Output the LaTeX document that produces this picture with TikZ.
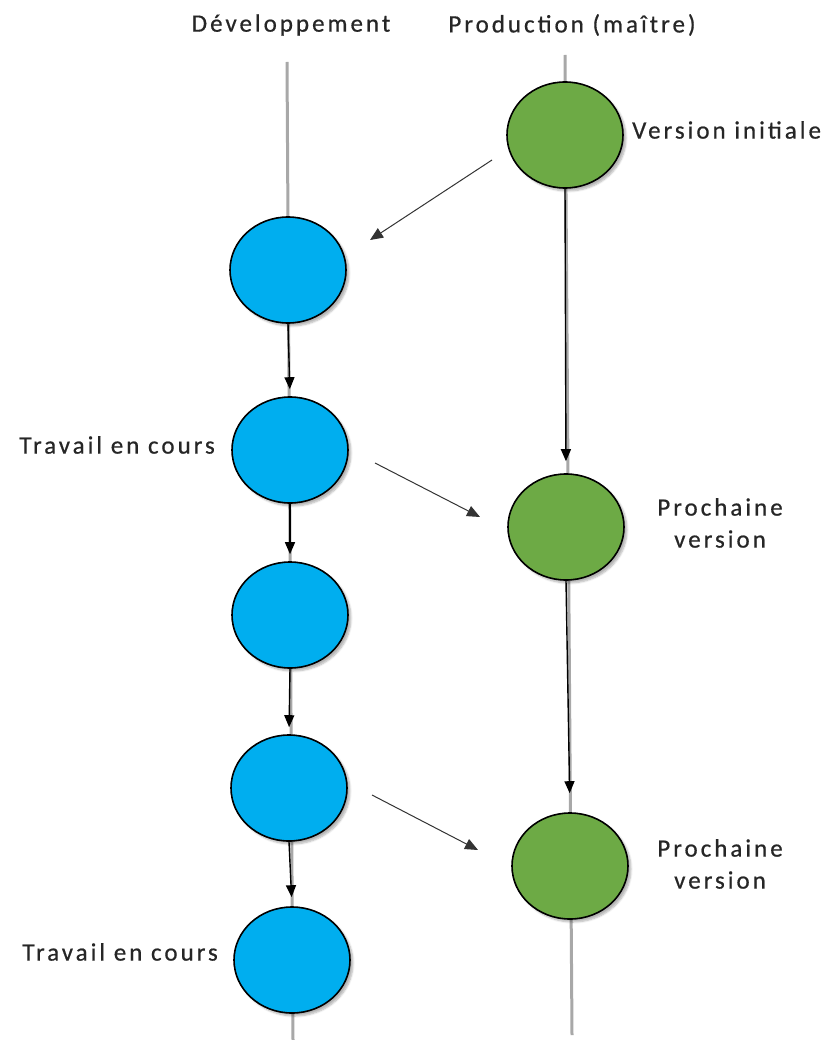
\documentclass[tikz,border=0pt]{standalone}
\usepackage{fontspec}
\setmainfont{Carlito}[LetterSpace=12, FakeBold=0.6]
\usetikzlibrary{shapes.geometric,arrows.meta,shadows.blur}
\definecolor{devblue}{HTML}{00AEEF}
\definecolor{prodgreen}{HTML}{6DAA45}
\definecolor{trunk}{HTML}{A8A8A8}
\tikzset{
  commit/.style={ellipse, draw=black, line width=1.6pt, minimum width=116pt,
    minimum height=106pt, inner sep=0pt,
    blur shadow={shadow xshift=3pt, shadow yshift=-3pt, shadow blur steps=6, shadow opacity=30}},
  devcommit/.style={commit, fill=devblue},
  prodcommit/.style={commit, fill=prodgreen},
  branchline/.style={draw=trunk, line width=3pt},
  stepflow/.style={draw=black, line width=1.4pt, -{Triangle[length=12pt,width=10pt]}},
  merge/.style={draw=black!80, line width=1pt, -{Triangle[length=13pt,width=11pt]}},
  lbl/.style={font=\fontsize{25}{32}\selectfont, text=black!85, inner sep=0pt},
}
\begin{document}
\begin{tikzpicture}[x=1pt, y=-1pt]
  \useasboundingbox (0,0) rectangle (828,1040);

  % branch headings
  \node[lbl] (hdev) at (291,25) {Développement};
  \node[lbl] (hprod) at (572,25) {Production (maître)};

  % branch trunks
  \coordinate (devtop) at (287,62);
  \coordinate (devbot) at (293,1040);
  \coordinate (prodtop) at (565,55);
  \coordinate (prodbot) at (572,1035);
  \draw[branchline] (devtop) -- (devbot);
  \draw[branchline] (prodtop) -- (prodbot);

  % commits on the production branch
  \node[prodcommit] (g1) at (565,135) {};
  \node[prodcommit] (g2) at (566,527) {};
  \node[prodcommit] (g3) at (570,866) {};

  % commits on the development branch
  \node[devcommit] (c1) at (288,270) {};
  \node[devcommit] (c2) at (290,450) {};
  \node[devcommit] (c3) at (290,615) {};
  \node[devcommit] (c4) at (289,788) {};
  \node[devcommit] (c5) at (292,960) {};

  % history along each branch
  \draw[stepflow, shorten >=7pt] (c1.south) -- (c2.north);
  \draw[stepflow, shorten >=7pt] (c2.south) -- (c3.north);
  \draw[stepflow, shorten >=7pt] (c3.south) -- (c4.north);
  \draw[stepflow, shorten >=9pt] (c4.south) -- (c5.north);
  \draw[stepflow, shorten >=12pt] (g1.south) -- (g2.north);
  \draw[stepflow, shorten >=19pt] (g2.south) -- (g3.north);

  % branching and merging
  \coordinate (m1a) at (492,160);
  \coordinate (m1b) at (370,240);
  \coordinate (m2a) at (375,463);
  \coordinate (m2b) at (480,517);
  \coordinate (m3a) at (372,795);
  \coordinate (m3b) at (478,850);
  \draw[merge] (m1a) -- (m1b);
  \draw[merge] (m2a) -- (m2b);
  \draw[merge] (m3a) -- (m3b);

  % labels
  \node[lbl, anchor=west] (l1) at (632,130) {Version initiale};
  \node[lbl, anchor=east] (l2) at (215,445) {Travail en cours};
  \node[lbl, align=center] (l3) at (720,523) {Prochaine\\version};
  \node[lbl, align=center] (l4) at (720,864) {Prochaine\\version};
  \node[lbl, anchor=east] (l5) at (218,952) {Travail en cours};
\end{tikzpicture}
\end{document}
